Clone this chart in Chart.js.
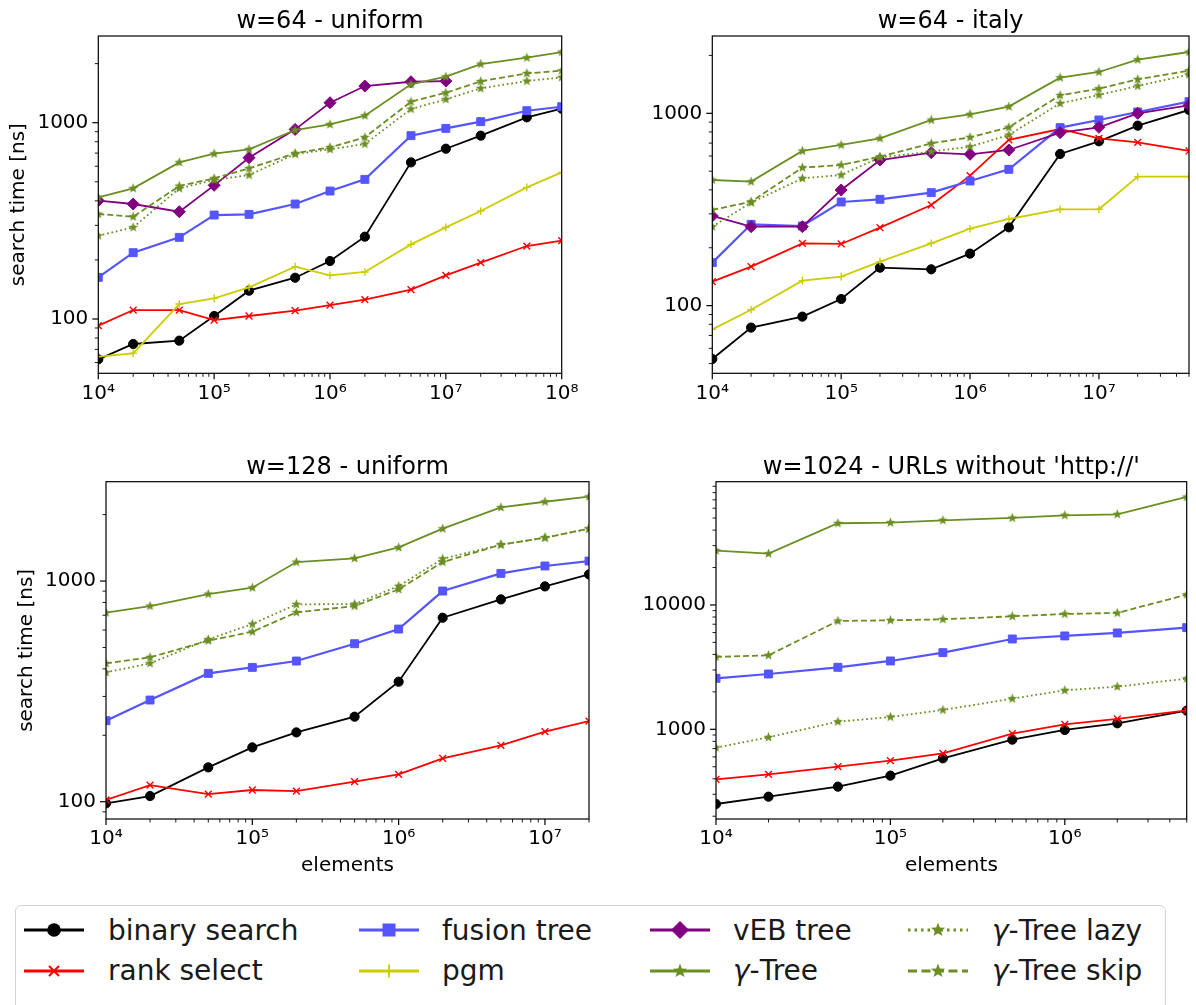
<!DOCTYPE html>
<html><head><meta charset="utf-8">
<script src="https://cdn.jsdelivr.net/npm/chart.js@4.4.1/dist/chart.umd.min.js"></script>
<style>
html,body{margin:0;padding:0;background:#fff;width:1196px;height:1005px;overflow:hidden;font-family:'DejaVu Sans',sans-serif;}
canvas{position:absolute;}
#legend{position:absolute;left:15px;top:905px;width:1151px;height:130px;border:1px solid #d4d4d4;border-radius:6px;background:#fff;box-sizing:border-box;}
#legend .lt{position:absolute;font-family:'DejaVu Sans';font-size:28px;line-height:28px;color:#1a1a1a;white-space:nowrap;}
#legend .lt i{font-style:italic;}
#legend svg{position:absolute;overflow:visible;}
</style></head><body>
<canvas id="c0" width="598" height="440" style="left:0;top:0"></canvas>
<canvas id="c1" width="598" height="440" style="left:598px;top:0"></canvas>
<canvas id="c2" width="598" height="450" style="left:0;top:440px"></canvas>
<canvas id="c3" width="598" height="450" style="left:598px;top:440px"></canvas>
<div id="legend"></div>
<script>
// ---------- data ----------
const X_UNIFORM64 = [1e4,2e4,5e4,1e5,2e5,5e5,1e6,2e6,5e6,1e7,2e7,5e7,1e8];
const X_ITALY64   = [1e4,2e4,5e4,1e5,2e5,5e5,1e6,2e6,5e6,1e7,2e7,5e7];
const X_UNIFORM128= [1e4,2e4,5e4,1e5,2e5,5e5,1e6,2e6,5e6,1e7,2e7];
const X_URLS1024  = [1e4,2e4,5e4,1e5,2e5,5e5,1e6,2e6,5e6];

// w=64 - uniform
const u64_binary = [62.3,74.6,77.6,103.6,139.4,162.3,197.4,262.6,628,737,859,1065,1178];
const u64_rank   = [92.5,111.1,111.1,98.8,103.6,110.3,117.8,125.5,141.1,166.9,193.6,235.4,250.6];
const u64_fusion = [163,217.7,260.6,338.6,341.3,385.3,448.7,514.5,859,935.7,1012,1151,1206];
const u64_pgm    = [64.3,66.9,119.2,127.4,145,184.8,166.9,173.6,240,293.1,354.9,468.4,558.5];
const u64_veb    = [400.5,385.3,352.1,479.6,663.2,924.7,1264,1537,1617,1630];
const u64_gamma  = [416.6,463.1,628,695.3,731.6,917.6,980.6,1086,1568,1715,1990,2143,2291];
const u64_lazy   = [265.7,293.1,463.1,510.5,541.2,692.5,731.6,778.6,1174,1315,1496,1630,1702];
const u64_skip   = [342.6,332,475.9,520.6,585.4,698,748.8,842,1279,1421,1624,1784,1840];

// w=64 - italy
const it64_binary = [52.8,76.9,87.7,108.3,157.6,154.5,186.4,255.4,614.6,715.4,862.8,1041];
const it64_rank   = [133.3,159.5,210.9,209.3,254.4,333.7,474.2,727,828.8,741.3,706.9,637];
const it64_fusion = [167.4,264.8,259.5,346,357.2,386.9,444.8,511.4,842.4,923.3,1016,1150];
const it64_pgm    = [75.3,95.3,134.9,141.5,169.4,210.9,251.3,282.2,316.9,316.9,468.6,468.6];
const it64_veb    = [292.6,257.5,257.5,399.3,571.8,624.5,612.1,644.7,793.5,845.7,1000,1100];
const it64_gamma  = [450.2,441.3,637,684.5,741.3,923.3,988,1083,1532,1640,1901,2084];
const it64_lazy   = [257.5,343.2,459.2,478,590.5,632,670.9,771.5,1127,1245,1387,1589];
const it64_skip   = [314.4,347.3,521.8,538.7,595.2,698.2,750.3,845.7,1240,1343,1502,1667];

// w=128 - uniform
const u128_binary = [98.3,106.1,143.1,176.3,206.1,242.8,349.8,682.1,825.9,945.8,1072];
const u128_rank   = [101.8,119,108.3,113,111.7,123.2,133,157.2,180,207.6,232.1];
const u128_fusion = [232.9,288.9,381.6,406.2,434,520,606,901,1083,1170,1232];
const u128_gamma  = [718.8,770.4,873.3,933,1219,1267,1420,1727,2157,2288,2411];
const u128_lazy   = [385.6,423.6,544,638.4,784,786.6,949,1262,1461,1572,1727];
const u128_skip   = [423.6,451,536.5,589.4,721.1,770.4,916.8,1219,1461,1572,1727];

// w=1024 - URLs without 'http://'
const url_binary = [250.9,287.3,345.9,424,584.6,825.9,987.7,1118,1413];
const url_rank   = [396.2,434.6,500.9,559.8,641.2,922.9,1097,1211,1421];
const url_fusion = [2572,2786,3153,3545,4136,5326,5633,5955,6573];
const url_gamma  = [27350,25870,45390,45950,47970,50080,52620,53600,73880];
const url_lazy   = [712.2,862.4,1152,1257,1430,1765,2059,2203,2556];
const url_skip   = [3818,3937,7435,7528,7668,8106,8464,8624,12110];

// tick labels
const X_TICKS_UNIFORM64 = [1e4,1e5,1e6,1e7,1e8];
const X_TICKS_ITALY64   = [1e4,1e5,1e6,1e7];
const X_TICKS_UNIFORM128= [1e4,1e5,1e6,1e7];
const X_TICKS_URLS1024  = [1e4,1e5,1e6];
const Y_TICKS_SMALL = [100,1000];
const Y_TICKS_URLS  = [1000,10000];

// ---------- styles ----------
const GREEN = '#6b8e23';
function starCanvas(R, color){
  const s = Math.ceil(R*2+2); const c = document.createElement('canvas'); c.width=s; c.height=s;
  const g = c.getContext('2d'); g.fillStyle=color; g.beginPath();
  for(let i=0;i<10;i++){ const a=-Math.PI/2+i*Math.PI/5; const r=i%2?R*0.42:R; const px=s/2+r*Math.cos(a), py=s/2+r*Math.sin(a); i?g.lineTo(px,py):g.moveTo(px,py);} g.closePath(); g.fill();
  return c;
}
const STAR = starCanvas(5.2, GREEN);
const STYLE = {
  'binary search': {color:'#000000', point:'circle', r:4.6, bw:1, lw:1.8, dash:[]},
  'rank select':   {color:'#ff0000', point:'crossRot', r:4.8, bw:1.4, lw:1.8, dash:[]},
  'fusion tree':   {color:'#5555ff', point:'rect', r:5.6, bw:1, lw:2.2, dash:[]},
  'pgm':           {color:'#cccc00', point:'cross', r:3.8, bw:1.4, lw:1.8, dash:[]},
  'vEB tree':      {color:'#800080', point:'rectRot', r:6, bw:1, lw:1.8, dash:[]},
  '\u03b3-Tree':      {color:GREEN, point:STAR, r:5, bw:0, lw:1.8, dash:[]},
  '\u03b3-Tree lazy': {color:GREEN, point:STAR, r:5, bw:0, lw:1.8, dash:[1.7,2.8]},
  '\u03b3-Tree skip': {color:GREEN, point:STAR, r:5, bw:0, lw:1.8, dash:[6,3]},
};
function dataset(name, xs, ys, idx, n){
  const s = STYLE[name];
  return {label:name, data: ys.map((v,i)=>({x:xs[i], y:v})), borderColor:s.color, backgroundColor:s.color,
    borderWidth:s.lw, borderDash:s.dash, borderCapStyle:'butt', tension:0, fill:false,
    pointStyle:s.point, pointRadius:s.r, pointBorderWidth:s.bw, pointBackgroundColor:s.color, pointBorderColor:s.color,
    order: n-idx};
}

const SUP = '\u2070\u00b9\u00b2\u00b3\u2074\u2075\u2076\u2077\u2078\u2079';
function powLabel(v){ const e=Math.round(Math.log10(v)); return '10'+String(e).split('').map(d=>SUP[+d]).join(''); }

const frameTicks = {
  id:'frameTicks',
  afterDraw(chart){
    const {ctx, chartArea:{left,right,top,bottom}} = chart;
    const xs = chart.scales.x, ys = chart.scales.y;
    ctx.save(); ctx.strokeStyle='#000';
    const each = (scale, fn) => {
      const lo=Math.floor(Math.log10(scale.min)), hi=Math.ceil(Math.log10(scale.max));
      for(let e=lo;e<=hi;e++) for(let m=1;m<10;m++){ const v=m*Math.pow(10,e); if(v<scale.min*0.9999||v>scale.max*1.0001) continue; fn(scale.getPixelForValue(v), m===1); }
    };
    each(xs,(p,major)=>{ ctx.lineWidth=major?1.2:0.9; ctx.beginPath(); ctx.moveTo(p,bottom); ctx.lineTo(p,bottom+(major?6:3.5)); ctx.stroke(); });
    each(ys,(p,major)=>{ ctx.lineWidth=major?1.2:0.9; ctx.beginPath(); ctx.moveTo(left,p); ctx.lineTo(left-(major?6:3.5),p); ctx.stroke(); });
    ctx.lineWidth=1.2; ctx.strokeRect(left,top,right-left,bottom-top);
    ctx.restore();
  }
};

Chart.defaults.font.family = "'DejaVu Sans'";
Chart.defaults.color = '#000';

const PANELS = [
  {id:'c0', title:'w=64 - uniform', xs:X_UNIFORM64, xticks:X_TICKS_UNIFORM64, yticks:Y_TICKS_SMALL,
   series:[['binary search',u64_binary],['rank select',u64_rank],['fusion tree',u64_fusion],['pgm',u64_pgm],['vEB tree',u64_veb],['\u03b3-Tree',u64_gamma],['\u03b3-Tree lazy',u64_lazy],['\u03b3-Tree skip',u64_skip]],
   xMin:1e4, xMax:1e8, yMin:52.9, yMax:2765, yTitle:'search time [ns]', yTitlePad:7, xTitle:null,
   pad:{top:7.2,right:36.3,left:0,bottom:0}, yW:98.3, xH:66.7},
  {id:'c1', title:'w=64 - italy', xs:X_ITALY64, xticks:X_TICKS_ITALY64, yticks:Y_TICKS_SMALL,
   series:[['binary search',it64_binary],['rank select',it64_rank],['fusion tree',it64_fusion],['pgm',it64_pgm],['vEB tree',it64_veb],['\u03b3-Tree',it64_gamma],['\u03b3-Tree lazy',it64_lazy],['\u03b3-Tree skip',it64_skip]],
   xMin:1e4, xMax:5e7, yMin:44.5, yMax:2523, yTitle:null, xTitle:null,
   pad:{top:7.2,right:1.5,left:0,bottom:0}, yW:114.3, xH:66.7},
  {id:'c2', title:'w=128 - uniform', xs:X_UNIFORM128, xticks:X_TICKS_UNIFORM128, yticks:Y_TICKS_SMALL,
   series:[['binary search',u128_binary],['rank select',u128_rank],['fusion tree',u128_fusion],['\u03b3-Tree',u128_gamma],['\u03b3-Tree lazy',u128_lazy],['\u03b3-Tree skip',u128_skip]],
   xMin:1e4, xMax:2e7, yMin:83.5, yMax:2820, yTitle:'search time [ns]', yTitlePad:15, xTitle:'elements',
   pad:{top:12.9,right:9,left:0,bottom:0}, yW:106, xH:71},
  {id:'c3', title:"w=1024 - URLs without 'http://'", xs:X_URLS1024, xticks:X_TICKS_URLS1024, yticks:Y_TICKS_URLS,
   series:[['binary search',url_binary],['rank select',url_rank],['fusion tree',url_fusion],['\u03b3-Tree',url_gamma],['\u03b3-Tree lazy',url_lazy],['\u03b3-Tree skip',url_skip]],
   xMin:1e4, xMax:5e6, yMin:190, yMax:98000, yTitle:null, xTitle:'elements',
   pad:{top:12.9,right:9.3,left:0,bottom:0}, yW:118, xH:71},
];

PANELS.forEach(P=>{
  const n = P.series.length;
  new Chart(document.getElementById(P.id), {
    type:'line',
    data:{datasets: P.series.map(([name,ys],i)=>dataset(name,P.xs,ys,i,n))},
    options:{
      responsive:false, animation:false, devicePixelRatio:1,
      layout:{padding:P.pad},
      plugins:{
        legend:{display:false}, tooltip:{enabled:false},
        title:{display:true, text:P.title, fullSize:false, font:{size:24, weight:'normal'}, color:'#000', padding:{top:0,bottom:0}}
      },
      scales:{
        x:{type:'logarithmic', min:P.xMin, max:P.xMax,
           grid:{display:false, drawTicks:false}, border:{display:false},
           afterBuildTicks:(s)=>{ s.ticks = P.xticks.map(v=>({value:v})); },
           afterFit:(s)=>{ s.height = P.xH; },
           ticks:{autoSkip:false, maxRotation:0, minRotation:0, padding:8, font:{size:20}, color:'#000', callback:(v)=>powLabel(v)},
           title:{display:!!P.xTitle, text:P.xTitle||'', font:{size:20}, color:'#000', padding:{top:0,bottom:12}}},
        y:{type:'logarithmic', min:P.yMin, max:P.yMax,
           grid:{display:false, drawTicks:false}, border:{display:false},
           afterBuildTicks:(s)=>{ s.ticks = P.yticks.map(v=>({value:v})); },
           afterFit:(s)=>{ s.width = P.yW; },
           ticks:{autoSkip:false, padding:10, font:{size:20}, color:'#000', callback:(v)=>String(v)},
           title:{display:!!P.yTitle, text:P.yTitle||'', font:{size:20}, color:'#000', padding:{top:P.yTitlePad||0,bottom:0}}}
      }
    },
    plugins:[frameTicks]
  });
});

// ---------- legend ----------
const LEG_ORDER = [['binary search','rank select'],['fusion tree','pgm'],['vEB tree','\u03b3-Tree'],['\u03b3-Tree lazy','\u03b3-Tree skip']];
const LEG_LINE_X = [24,359,650,908];
const LEG_TEXT_X = [108,442,733,992];
const LEG_ROW_Y = [929.5,971];
const LEG_TEXT_TOP = [916.6,956.6];
function markerSVG(s){
  const c=s.color;
  if(s.point==='circle') return `<circle cx="30" cy="15" r="6.8" fill="${c}"/>`;
  if(s.point==='rect') return `<rect x="23.5" y="8.5" width="13" height="13" fill="${c}"/>`;
  if(s.point==='rectRot') return `<polygon points="30,6 39,15 30,24 21,15" fill="${c}"/>`;
  if(s.point==='crossRot') return `<path d="M25,10 L35,20 M35,10 L25,20" stroke="${c}" stroke-width="2"/>`;
  if(s.point==='cross') return `<path d="M30,8.5 L30,21.5 M23.5,15 L36.5,15" stroke="${c}" stroke-width="2"/>`;
  let pts=[]; for(let i=0;i<10;i++){const a=-Math.PI/2+i*Math.PI/5; const r=i%2?7.5*0.42:7.5; pts.push((30+r*Math.cos(a)).toFixed(2)+','+(15+r*Math.sin(a)).toFixed(2));}
  return `<polygon points="${pts.join(' ')}" fill="${c}"/>`;
}
const leg = document.getElementById('legend');
let html='';
LEG_ORDER.forEach((col,ci)=>col.forEach((name,ri)=>{
  const s=STYLE[name];
  const dash = s.dash.length ? (s.dash[0]<3 ? 'stroke-dasharray="2.5,4"' : 'stroke-dasharray="9,4.5"') : '';
  const lx = LEG_LINE_X[ci]-16, ly = LEG_ROW_Y[ri]-15-906;
  const label = name.replace('\u03b3','<i>\u03b3</i>');
  html += `<svg style="left:${lx}px;top:${ly}px" width="60" height="30"><line x1="0" y1="15" x2="60" y2="15" stroke="${s.color}" stroke-width="3" ${dash}/>${markerSVG(s)}</svg>`;
  html += `<div class="lt" style="left:${LEG_TEXT_X[ci]-16}px;top:${LEG_TEXT_TOP[ri]-906}px">${label}</div>`;
}));
leg.innerHTML = html;
</script>
</body></html>
